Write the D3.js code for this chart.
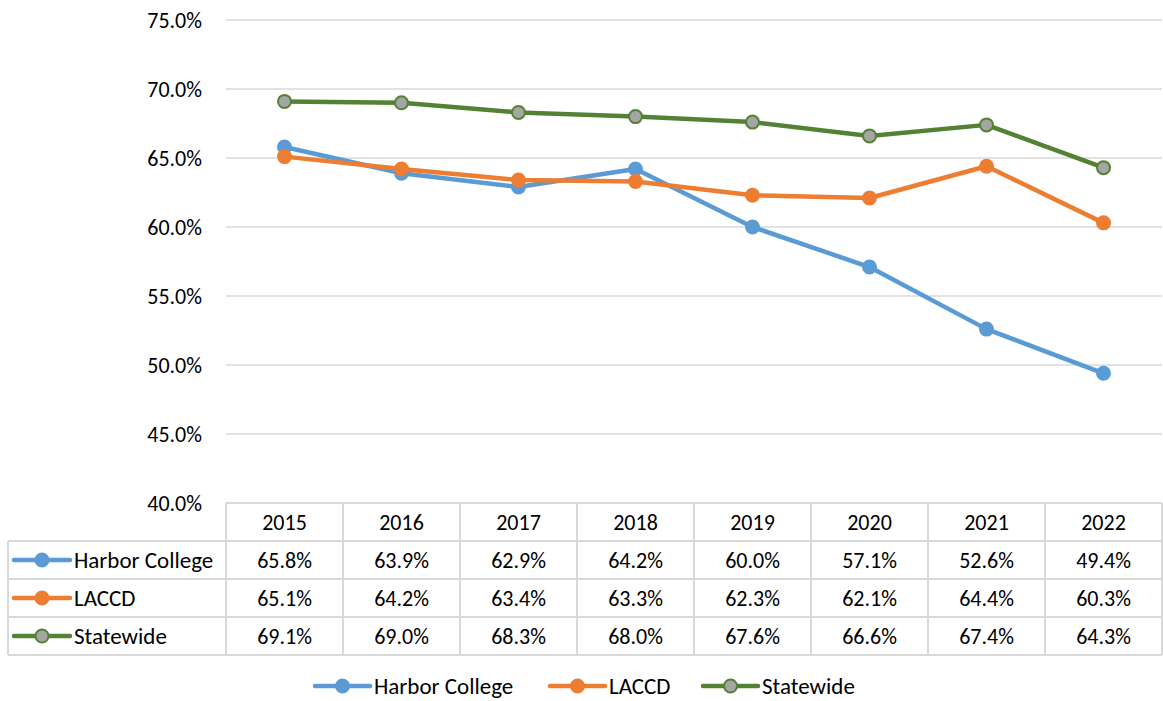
<!DOCTYPE html>
<html>
<head>
<meta charset="utf-8">
<script src="https://cdn.jsdelivr.net/npm/d3@7"></script>
<style>
  body { margin: 0; background: #fff; }
  text { font-family: Carlito, Calibri, Lato, sans-serif; fill: #000; }
</style>
</head>
<body>
<div id="chart"></div>
<script>
// data
var years = ["2015", "2016", "2017", "2018", "2019", "2020", "2021", "2022"];
var harbor = [65.8, 63.9, 62.9, 64.2, 60.0, 57.1, 52.6, 49.4];
var laccd = [65.1, 64.2, 63.4, 63.3, 62.3, 62.1, 64.4, 60.3];
var statewide = [69.1, 69.0, 68.3, 68.0, 67.6, 66.6, 67.4, 64.3];
var yTicks = [40, 45, 50, 55, 60, 65, 70, 75];

var series = [
  {name: "Harbor College", values: harbor, color: "#5B9BD5", fill: "#5B9BD5"},
  {name: "LACCD", values: laccd, color: "#ED7D31", fill: "#ED7D31"},
  {name: "Statewide", values: statewide, color: "#548235", fill: "#A5A5A5"}
];

var width = 1163, height = 701;
var plotLeft = 226, plotRight = 1162, plotTop = 20, plotBottom = 503;
var tableLeft = 8;
var rowH = 38;
var fontSize = 22;
var nameSize = 23;

var svg = d3.select("#chart")
  .append("svg")
    .attr("width", width)
    .attr("height", height);

var x = d3.scaleBand()
  .domain(years)
  .range([plotLeft, plotRight]);

var y = d3.scaleLinear()
  .domain([40, 75])
  .range([plotBottom, plotTop]);

// gridlines
svg.append("g")
  .selectAll("line")
  .data(yTicks.slice(1))
  .enter().append("line")
    .attr("x1", plotLeft)
    .attr("x2", plotRight)
    .attr("y1", function(d) { return y(d); })
    .attr("y2", function(d) { return y(d); })
    .attr("stroke", "#D9D9D9")
    .attr("stroke-width", 1.5);

// y axis
var yAxis = svg.append("g")
  .attr("transform", "translate(" + plotLeft + ",0)")
  .call(d3.axisLeft(y).tickValues(yTicks).tickSize(0).tickPadding(24)
    .tickFormat(function(d) { return d.toFixed(1) + "%"; }));
yAxis.select(".domain").remove();
yAxis.selectAll("text")
  .style("font-family", "Carlito, Calibri, Lato, sans-serif")
  .style("font-size", fontSize + "px")
  .attr("fill", "#000");

// lines
var line = d3.line()
  .x(function(d, i) { return x(years[i]) + x.bandwidth() / 2; })
  .y(function(d) { return y(d); });

series.forEach(function(s) {
  svg.append("path")
    .datum(s.values)
    .attr("d", line)
    .attr("fill", "none")
    .attr("stroke", s.color)
    .attr("stroke-width", 4.5)
    .attr("stroke-linejoin", "round");
  svg.append("g")
    .selectAll("circle")
    .data(s.values)
    .enter().append("circle")
      .attr("cx", function(d, i) { return x(years[i]) + x.bandwidth() / 2; })
      .attr("cy", function(d) { return y(d); })
      .attr("r", 6.5)
      .attr("fill", s.fill)
      .attr("stroke", s.color)
      .attr("stroke-width", 2);
});

// data table
var table = svg.append("g");
var tableBottom = plotBottom + rowH * 4;
var border = "#D9D9D9";

// horizontal lines
table.append("line")
  .attr("x1", plotLeft).attr("x2", plotRight)
  .attr("y1", plotBottom).attr("y2", plotBottom)
  .attr("stroke", border).attr("stroke-width", 2);
[1, 2, 3, 4].forEach(function(r) {
  table.append("line")
    .attr("x1", tableLeft).attr("x2", plotRight)
    .attr("y1", plotBottom + r * rowH).attr("y2", plotBottom + r * rowH)
    .attr("stroke", border).attr("stroke-width", 2);
});
// vertical lines
table.append("line")
  .attr("x1", tableLeft).attr("x2", tableLeft)
  .attr("y1", plotBottom + rowH).attr("y2", tableBottom)
  .attr("stroke", border).attr("stroke-width", 2);
years.forEach(function(yr) {
  table.append("line")
    .attr("x1", x(yr)).attr("x2", x(yr))
    .attr("y1", plotBottom).attr("y2", tableBottom)
    .attr("stroke", border).attr("stroke-width", 2);
});
table.append("line")
  .attr("x1", plotRight).attr("x2", plotRight)
  .attr("y1", plotBottom).attr("y2", tableBottom)
  .attr("stroke", border).attr("stroke-width", 2);

// header
table.selectAll("text.year")
  .data(years)
  .enter().append("text")
    .attr("class", "year")
    .attr("x", function(d) { return x(d) + x.bandwidth() / 2; })
    .attr("y", plotBottom + rowH / 2)
    .attr("dy", "0.35em")
    .attr("text-anchor", "middle")
    .style("font-size", fontSize + "px")
    .text(function(d) { return d; });

// rows
series.forEach(function(s, r) {
  var cy = plotBottom + rowH * (r + 1) + rowH / 2;
  table.append("line")
    .attr("x1", 14).attr("x2", 70)
    .attr("y1", cy).attr("y2", cy)
    .attr("stroke", s.color).attr("stroke-width", 4.5)
    .attr("stroke-linecap", "round");
  table.append("circle")
    .attr("cx", 42).attr("cy", cy).attr("r", 6.5)
    .attr("fill", s.fill).attr("stroke", s.color).attr("stroke-width", 2);
  table.append("text")
    .attr("x", 74).attr("y", cy).attr("dy", "0.35em")
    .style("font-size", nameSize + "px")
    .text(s.name);
  table.selectAll("text.v" + r)
    .data(s.values)
    .enter().append("text")
      .attr("class", "v" + r)
      .attr("x", function(d, i) { return x(years[i]) + x.bandwidth() / 2; })
      .attr("y", cy)
      .attr("dy", "0.35em")
      .attr("text-anchor", "middle")
      .style("font-size", fontSize + "px")
      .text(function(d) { return d.toFixed(1) + "%"; });
});

// legend
var legendItems = [
  {x: 315},
  {x: 550},
  {x: 703}
];
var legendY = 686;
series.forEach(function(s, i) {
  var lx = legendItems[i].x;
  var g = svg.append("g");
  g.append("line")
    .attr("x1", lx).attr("x2", lx + 55)
    .attr("y1", legendY).attr("y2", legendY)
    .attr("stroke", s.color).attr("stroke-width", 4.5)
    .attr("stroke-linecap", "round");
  g.append("circle")
    .attr("cx", lx + 27.5).attr("cy", legendY).attr("r", 6.5)
    .attr("fill", s.fill).attr("stroke", s.color).attr("stroke-width", 2);
  g.append("text")
    .attr("x", lx + 59).attr("y", legendY).attr("dy", "0.35em")
    .style("font-size", nameSize + "px")
    .text(s.name);
});
</script>
</body>
</html>
